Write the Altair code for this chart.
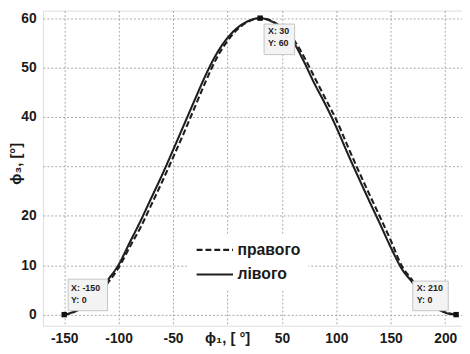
import altair as alt
import pandas as pd

# phi_1 angles (degrees)
phi1 = [-150, -140, -130, -120, -110, -100, -90, -80, -70, -60, -50, -40, -30, -20, -10,
        0, 10, 20, 30, 40, 50, 60, 70, 80, 90, 100, 110, 120, 130, 140, 150, 160,
        170, 180, 190, 200, 210]
# phi_3 for "лівого" (solid)
livoho = [0.0, 0.7, 2.2, 4.3, 7.0, 10.1, 14.5, 18.9, 23.6, 28.3, 33.3, 38.4, 43.5, 48.5, 52.8,
          56.0, 58.2, 59.5, 60.0, 59.4, 57.9, 55.4, 51.3, 46.7, 42.5, 37.9, 32.8, 27.9, 23.1,
          18.4, 13.6, 9.3, 6.5, 3.6, 1.6, 0.4, 0.0]
# phi_3 for "правого" (dashed)
pravoho = [0.0, 0.6, 1.9, 3.8, 6.4, 9.5, 13.6, 17.6, 22.2, 26.9, 31.8, 36.8, 42.0, 47.2, 51.9,
           55.4, 57.9, 59.4, 60.0, 59.5, 58.1, 55.9, 52.3, 48.0, 43.7, 39.4, 34.3, 29.3, 24.5,
           19.8, 15.0, 9.9, 6.9, 4.0, 1.8, 0.5, 0.0]

series_names = ["правого", "лівого"]

tip_x = [-150, 30, 210]
tip_y = [0, 60, 0]
tip_text = ["X: -150\nY: 0", "X: 30\nY: 60", "X: 210\nY: 0"]

x_ticks = [-150, -100, -50, 0, 50, 100, 150, 200]
y_ticks = [0, 10, 20, 30, 40, 50, 60]

rows = []
for i, xv in enumerate(phi1):
    rows.append({"phi1": xv, "phi3": pravoho[i], "series": series_names[0], "order": i})
    rows.append({"phi1": xv, "phi3": livoho[i], "series": series_names[1], "order": i})
df = pd.DataFrame(rows)
tips = pd.DataFrame({"x": tip_x, "y": tip_y, "label": tip_text})

FONT = "Liberation Sans"
xscale = alt.Scale(domain=[-169.5, 215.4], nice=False, zero=False)
yscale = alt.Scale(domain=[-2.25, 61.53], nice=False, zero=False)

grid_kw = dict(grid=True, gridColor="#a8a8a8", gridDash=[2, 2], gridWidth=1,
               domain=False, ticks=False, labelFont=FONT, labelFontSize=14,
               labelFontWeight="bold", labelColor="#1a1a1a", titleFont=FONT,
               titleFontSize=15, titleFontWeight="bold", titleColor="#1a1a1a")

xaxis = alt.Axis(values=x_ticks,
                 labelExpr="datum.value == 0 ? '' : replace(datum.label, '\u2212', '-')",
                 labelPadding=6, title="ϕ₁, [ °]", titleX=187, titleY=5,
                 titleBaseline="top", titleAlign="center", **grid_kw)
yaxis = alt.Axis(values=y_ticks, labelExpr="datum.value == 30 ? '' : datum.label",
                 labelPadding=7, title="ϕ₃, [°]", titleX=-28, titleY=155,
                 titleAngle=270, titleAlign="center", titleBaseline="middle", **grid_kw)

lines = alt.Chart(df).mark_line(color="#1e1e1e", strokeWidth=2.1, interpolate="monotone").encode(
    x=alt.X("phi1:Q", scale=xscale, axis=xaxis),
    y=alt.Y("phi3:Q", scale=yscale, axis=yaxis),
    order="order:Q",
    strokeDash=alt.StrokeDash(
        "series:N",
        scale=alt.Scale(domain=series_names, range=[[6, 3], [1, 0]]),
        legend=alt.Legend(
            title=None, orient="none", legendX=146.5, legendY=227,
            symbolType="stroke", symbolSize=1369, symbolStrokeWidth=2.2,
            symbolStrokeColor="#1e1e1e", clipHeight=16, rowPadding=9,
            labelFont=FONT, labelFontSize=16, labelFontWeight="bold",
            labelColor="#1a1a1a", labelOffset=3, fillColor="white", padding=8,
        ),
    ),
)

box_paths = ["M4,-36H44V-4H4Z", "M4,6H35V37H4Z", "M-44,-34H-8V-4H-44Z"]
text_dx = [7, 8, -40]
text_dy = [-31, 9, -31]

layers = [lines]
for i in range(3):
    sub = alt.Chart(tips).transform_filter(alt.datum.x == tip_x[i])
    layers.append(sub.mark_point(shape=box_paths[i], size=4, filled=True, fill="#f3f3f3",
                                 stroke="#c4c4c4", strokeWidth=1, opacity=1).encode(
        x=alt.X("x:Q", scale=xscale), y=alt.Y("y:Q", scale=yscale)))
    layers.append(sub.mark_text(align="left", baseline="top", dx=text_dx[i], dy=text_dy[i],
                                lineBreak="\n", lineHeight=12.5, font=FONT, fontSize=9,
                                fontWeight="bold", color="#222222").encode(
        x=alt.X("x:Q", scale=xscale), y=alt.Y("y:Q", scale=yscale), text="label:N"))

markers = alt.Chart(tips).mark_point(shape="square", filled=True, size=30, color="#111111",
                                     opacity=1).encode(
    x=alt.X("x:Q", scale=xscale), y=alt.Y("y:Q", scale=yscale))
layers.append(markers)

chart = alt.layer(*layers).properties(
    width=425.5, height=320, autosize="none",
    padding={"left": 35.5, "top": 0, "right": 0, "bottom": 22},
).configure_view(stroke="#777777", strokeWidth=1).configure(background="white")

chart.save("out.html", embed_options={"renderer": "svg", "actions": False})
